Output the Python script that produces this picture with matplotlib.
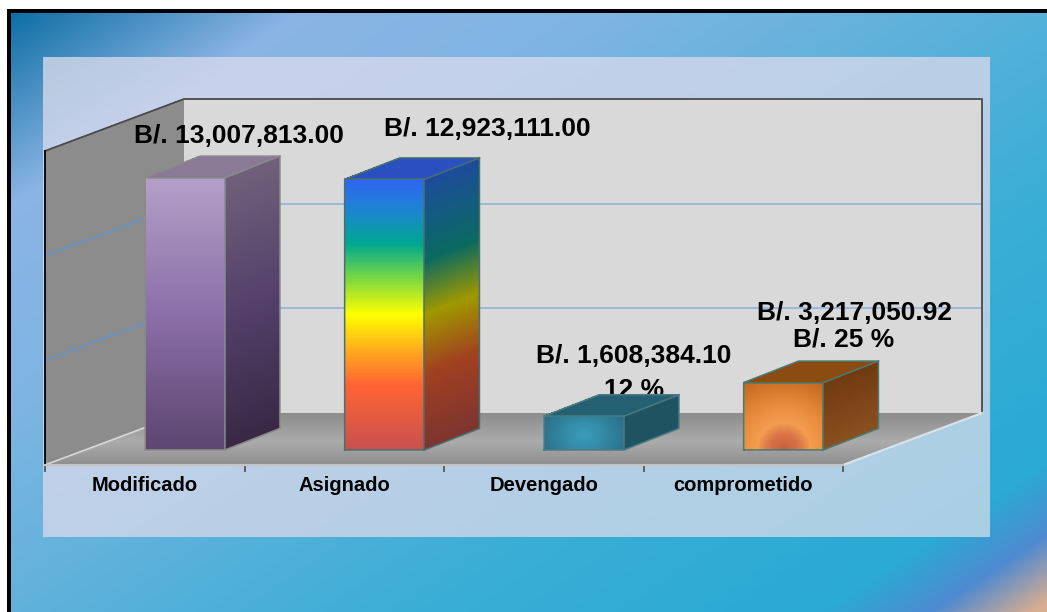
import numpy as np
import matplotlib
matplotlib.use("Agg")
import matplotlib.pyplot as plt
from matplotlib.colors import to_rgb

categories = ["Modificado", "Asignado", "Devengado", "comprometido"]
values = [13007813.00, 12923111.00, 1608384.10, 3217050.92]
value_labels = ["B/. 13,007,813.00", "B/. 12,923,111.00", "B/. 1,608,384.10", "B/. 3,217,050.92"]
share_labels = ["", "", "12 %", "B/. 25 %"]
y_ticks = [5000000, 10000000]
y_max = 15000000

W, H = 1047, 612
# 3d look: how far the back wall sits from the front plane, in data units
DEPTH_X = 139 / 199.5
DEPTH_Y = 52 / 314 * y_max
BAR_D0 = 0.29
BAR_W = 0.4
BAR_DX = 55 / 199.5
BAR_DY = 21.5 / 314 * y_max


def ramp(t, stops):
    pos = [s[0] for s in stops]
    cols = np.array([to_rgb(s[1]) for s in stops])
    return np.stack([np.interp(t, pos, cols[:, i]) for i in range(3)], axis=-1)


def face(ax, ll, lr, ul, colour, z, nx=40, ny=120):
    # sheared quad from corner ll, painted cell by cell
    u, v = np.meshgrid(np.linspace(0, 1, nx + 1), np.linspace(0, 1, ny + 1))
    X = ll[0] + u * (lr[0] - ll[0]) + v * (ul[0] - ll[0])
    Y = ll[1] + u * (lr[1] - ll[1]) + v * (ul[1] - ll[1])
    uc = (u[:-1, :-1] + u[1:, 1:]) / 2
    vc = (v[:-1, :-1] + v[1:, 1:]) / 2
    m = ax.pcolormesh(X, Y, colour(uc, vc), shading="flat", antialiased=False, linewidth=0, zorder=z)
    m.set_clip_on(False)


def edge(ax, pts, col, z):
    xs, ys = zip(*pts)
    ax.plot(xs, ys, color=col, lw=1.1, zorder=z, clip_on=False, solid_joinstyle="miter")


def vert(stops):
    # v=0 is the bottom of the face, stops are given from the bottom
    return lambda u, v: ramp(v, stops)


def flat(c):
    return lambda u, v: ramp(v, [(0, c), (1, c)])


def glow_teal(u, v):
    r = np.sqrt(((u - 0.5) / 0.5) ** 2 + ((v - 0.45) / 0.9) ** 2)
    return ramp(r, [(0, "#3a9dbb"), (0.45, "#348ca8"), (1.1, "#2b6f88")])


def glow_orange(u, v):
    r = np.sqrt(((u - 0.5) * 80) ** 2 + (v * 67) ** 2)
    return ramp(r, [(0, "#c65c3e"), (16, "#d97548"), (27, "#f49c50"), (45, "#e88c3c"), (75, "#c4691e"), (95, "#b05c14")])


front_faces = [
    vert([(0, "#5c4570"), (0.5, "#8b6fa8"), (1, "#b3a0c8")]),
    vert([(0, "#c85050"), (0.24, "#ff6433"), (0.35, "#ffa020"), (0.5, "#ffff00"), (0.66, "#60d050"),
          (0.76, "#00a890"), (0.9, "#2080d8"), (1, "#2e66f0")]),
    glow_teal,
    glow_orange,
]
side_faces = [
    vert([(0, "#382844"), (0.5, "#54406a"), (1, "#70607a")]),
    vert([(0, "#7c3430"), (0.28, "#a04020"), (0.5, "#a09800"), (0.7, "#0a6a60"), (1, "#1c4c9c")]),
    flat("#1f5362"),
    vert([(0, "#8a5020"), (1, "#703a10")]),
]
top_faces = ["#8a7a96", "#2a50c0", "#256072", "#8a4c10"]
edge_cols = ["#8a8a8a", "#4a7070", "#4a7a80", "#4a7a70"]
label_off = [(54, 35), (103, 43), (50, 53), (71, 63)]
share_off = [(0, 0), (0, 0), (50, 19), (60, 36)]

plt.rcParams["font.family"] = ["Liberation Sans", "DejaVu Sans"]
fig = plt.figure(figsize=(W / 100, H / 100), dpi=100, facecolor="white")

# page background, panel and the black frame, in pixels
bg = fig.add_axes([0, 0, 1, 1])
bg.axis("off")
xx, yy = np.meshgrid(np.arange(W) + 0.5, np.arange(H) + 0.5)
tt = xx * 0.6 + yy * 0.9
page = ramp(tt, [(20, "#0e6fa5"), (190, "#8ab4e4"), (372, "#7fb5e2"), (549, "#62b2dc"), (800, "#3aaed6"),
                 (1045, "#2aaad4"), (1110, "#4f8ad0"), (1170, "#d8ae90")])
bg.imshow(page, extent=(0, W, H, 0), aspect="auto", zorder=0)
px, py = np.meshgrid(np.linspace(0, 1, 200), np.linspace(0, 1, 120))
sheet = ramp(px * 0.75 + py * 0.6, [(0, "#b5c9df"), (0.17, "#c8d2ec"), (0.45, "#c2d1ea"), (0.7, "#bbd0e7"), (1.35, "#a9cfe4")])
bg.imshow(sheet, extent=(43, 990, 537, 57), aspect="auto", zorder=1)
bg.set_xlim(0, W)
bg.set_ylim(H, 0)
bg.fill_between([0, W], 0, 9, color="white", lw=0, zorder=2)
bg.fill_between([0, 7], 0, H, color="white", lw=0, zorder=2)
bg.fill_between([7, W], 9, 13, color="black", lw=0, zorder=3)
bg.fill_between([7, 11], 9, H, color="black", lw=0, zorder=3)

# plot axes covers the front plane of the 3d box
ax = fig.add_axes([45 / W, (H - 465) / H, 798 / W, 314 / H])
ax.patch.set_visible(False)
ax.set_xlim(-0.5, 3.5)
ax.set_ylim(0, y_max)

x0, x1 = -0.5, 3.5
back_l, back_r = x0 + DEPTH_X, x1 + DEPTH_X
face(ax, (back_l, DEPTH_Y), (back_r, DEPTH_Y), (back_l, y_max + DEPTH_Y), flat("#d9d9d9"), 1, nx=1, ny=1)
face(ax, (x0, 0), (back_l, DEPTH_Y), (x0, y_max), flat("#8c8c8c"), 1, nx=1, ny=1)
face(ax, (x0, 0), (x1, 0), (back_l, DEPTH_Y),
     vert([(0, "#8e8e8e"), (0.45, "#ababab"), (1, "#8c8c8c")]), 1.5, nx=1, ny=52)

for g in y_ticks:
    ax.plot([back_l, back_r], [g + DEPTH_Y, g + DEPTH_Y], color="#8fb4dc", lw=1.2, zorder=2, clip_on=False)
    ax.plot([x0, back_l], [g, g + DEPTH_Y], color="#6593c8", lw=1.2, zorder=2, clip_on=False)

ax.plot([x0, back_l, back_r, back_r], [y_max, y_max + DEPTH_Y, y_max + DEPTH_Y, DEPTH_Y],
        color="#4a4a4a", lw=1.3, zorder=2, clip_on=False)
ax.plot([x0, back_l], [0, DEPTH_Y], color="#d8d8d8", lw=1.2, zorder=2, clip_on=False)
ax.plot([x1, back_r], [0, DEPTH_Y], color="#d8e4ea", lw=1.5, zorder=2, clip_on=False)

for i, val in enumerate(values):
    a = i - BAR_W / 2 + BAR_D0 * DEPTH_X
    b = a + BAR_W
    base = BAR_D0 * DEPTH_Y
    top = base + val
    z = 3 + i
    face(ax, (b, base), (b + BAR_DX, base + BAR_DY), (b, top), side_faces[i], z)
    face(ax, (a, top), (b, top), (a + BAR_DX, top + BAR_DY), flat(top_faces[i]), z, nx=1, ny=1)
    face(ax, (a, base), (b, base), (a, top), front_faces[i], z + 0.1)
    edge(ax, [(a, base), (b, base), (b + BAR_DX, base + BAR_DY), (b + BAR_DX, top + BAR_DY),
              (a + BAR_DX, top + BAR_DY), (a, top), (a, base)], edge_cols[i], z + 0.2)
    edge(ax, [(a, top), (b, top), (b, base)], edge_cols[i], z + 0.2)
    edge(ax, [(b, top), (b + BAR_DX, top + BAR_DY)], edge_cols[i], z + 0.2)

    # labels sit behind the bars, the top of the teal bar cuts into "12 %"
    cx = (a + b) / 2
    ax.annotate(value_labels[i], xy=(cx, top), xytext=label_off[i], textcoords="offset pixels",
                ha="center", va="baseline", fontsize=19, fontweight="bold", color="black",
                zorder=2.9, annotation_clip=False)
    if share_labels[i]:
        ax.annotate(share_labels[i], xy=(cx, top), xytext=share_off[i], textcoords="offset pixels",
                    ha="center", va="baseline", fontsize=19, fontweight="bold", color="black",
                    zorder=2.9, annotation_clip=False)

# boundaries carry the tick marks, centres carry the names
ax.set_xticks([-0.5, 0.5, 1.5, 2.5, 3.5])
ax.set_xticklabels([])
ax.set_xticks(range(len(categories)), categories, minor=True, fontsize=14.5, fontweight="bold")
ax.tick_params(axis="x", which="major", length=5, width=1.1, color="#444444")
ax.tick_params(axis="x", which="minor", length=0, pad=8)
ax.set_yticks([])
ax.spines["top"].set_visible(False)
ax.spines["right"].set_visible(False)
ax.spines["left"].set_color("black")
ax.spines["left"].set_linewidth(1.3)
ax.spines["bottom"].set_color("#c4c4c4")
ax.spines["bottom"].set_linewidth(1.5)

fig.savefig("out.png", dpi=100)
